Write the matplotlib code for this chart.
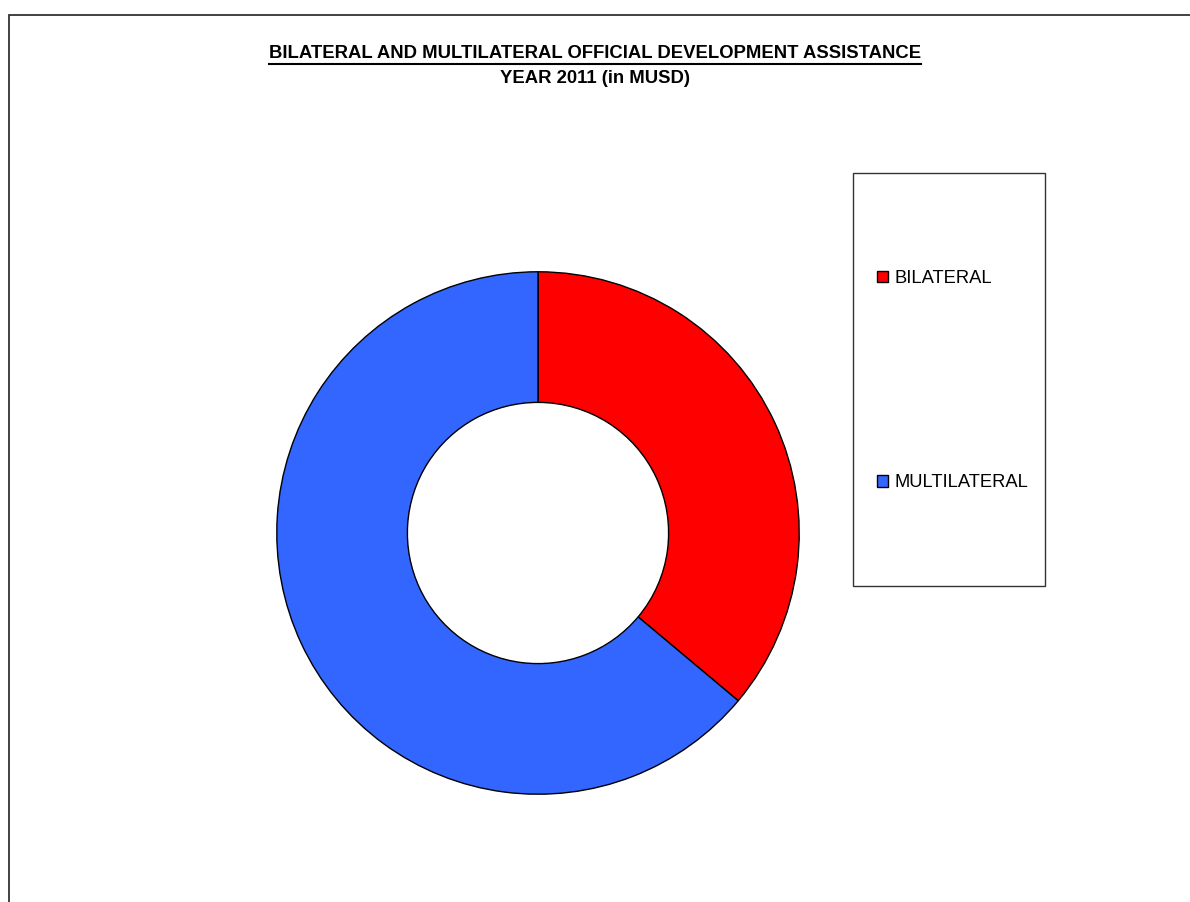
import matplotlib
matplotlib.use("Agg")
import matplotlib.pyplot as plt
from matplotlib.patches import Rectangle
from matplotlib.lines import Line2D

# Aid shares (per cent of total ODA, 2011)
categories = ["BILATERAL", "MULTILATERAL"]
shares = [36.1, 63.9]
colors = ["#FF0000", "#3366FF"]

W, H = 1190, 902
fig = plt.figure(figsize=(W / 100, H / 100), dpi=100)
plt.rcParams["font.family"] = ["Liberation Sans", "DejaVu Sans"]

# outer page frame (extends past right/bottom edges)
fig.patches.append(Rectangle((9 / W, -0.1), 1.2, (H - 15) / H + 0.1,
                             transform=fig.transFigure, fill=False,
                             edgecolor="#333333", linewidth=1.3))

# donut axes placed in pixel units
cx, cy, r = 538, 533, 262
ax = fig.add_axes([(cx - r) / W, (H - cy - r) / H, 2 * r / W, 2 * r / H])
wedges, _ = ax.pie(shares, colors=colors, startangle=90, counterclock=False,
                   radius=1.0,
                   wedgeprops=dict(width=0.5, edgecolor="black", linewidth=1.0))
ax.set_xlim(-1.003, 1.003)
ax.set_ylim(-1.003, 1.003)
ax.set_aspect("equal")
ax.axis("off")

# titles
t1 = fig.text(0.5, 1 - 53.5 / H, "BILATERAL AND MULTILATERAL OFFICIAL DEVELOPMENT ASSISTANCE",
              ha="center", va="center", fontsize=13.3, fontweight="bold")
fig.text(0.5, 1 - 78.5 / H, "YEAR 2011 (in MUSD)", ha="center", va="center",
         fontsize=13.3, fontweight="bold")
fig.canvas.draw()
bb = t1.get_window_extent()
fig.add_artist(Line2D([bb.x0 / W, bb.x1 / W], [(H - 64) / H] * 2,
                      transform=fig.transFigure, color="black", linewidth=1.5))

# legend box
fig.patches.append(Rectangle((853 / W, (H - 586) / H), (1045 - 853) / W, (586 - 173) / H,
                             transform=fig.transFigure, fill=False,
                             edgecolor="#333333", linewidth=1.0))
leg = fig.legend(wedges, categories, loc="upper left",
                 bbox_to_anchor=(877 / W, (H - 270) / H),
                 frameon=False, fontsize=13.2, handlelength=0.6, handleheight=0.6,
                 handletextpad=0.33, labelspacing=10.21, borderpad=0, borderaxespad=0)

fig.savefig("out.png", dpi=100)
